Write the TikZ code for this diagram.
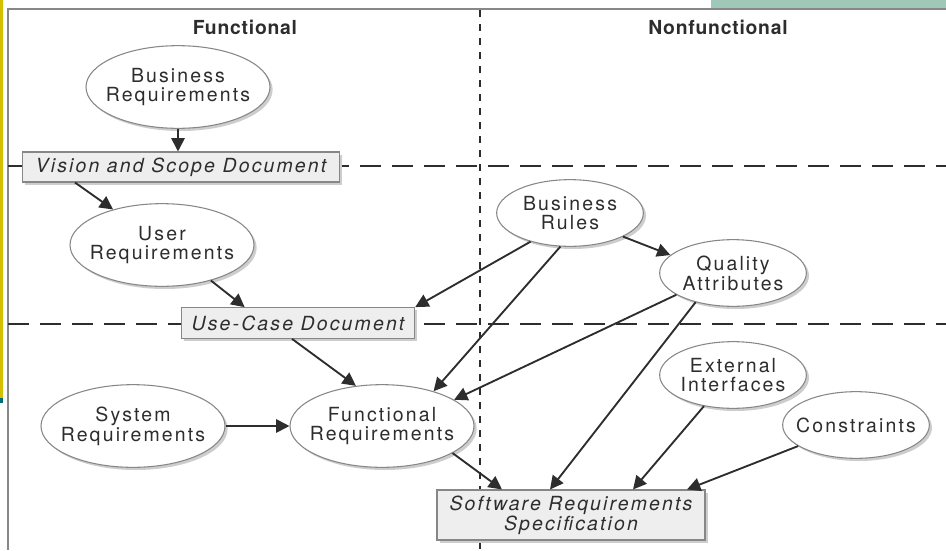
\documentclass[tikz,border=0pt]{standalone}
\usepackage{fontspec}
\setmainfont{TeX Gyre Heros}[LetterSpace=11]
\usepackage{xcolor}
\definecolor{myline}{RGB}{135,135,135}
\definecolor{myink}{RGB}{45,45,45}
\definecolor{mybox}{RGB}{238,238,238}
\definecolor{myshade}{RGB}{205,205,205}
\definecolor{myyellow}{RGB}{212,192,0}
\definecolor{myteal}{RGB}{0,110,120}
\definecolor{mygreen}{RGB}{160,200,185}
\usetikzlibrary{shapes.geometric,shadows,arrows.meta}

\begin{document}
\begin{tikzpicture}[x=0.75pt,y=-0.75pt,font=\fontsize{14.6}{13.8}\selectfont,text=myink]
	\tikzstyle{req}=[ellipse,draw=myline,thick,fill=white,align=center,inner xsep=-10pt,inner ysep=0pt,minimum width=138pt,minimum height=62pt,drop shadow={shadow xshift=2pt,shadow yshift=-2pt,fill=myshade,opacity=1}];
	\tikzstyle{attr}=[req,minimum width=110pt,minimum height=50pt];
	\tikzstyle{doc}=[rectangle,draw=myline,thick,fill=mybox,align=center,inner sep=0pt,font=\fontsize{14.6}{13.8}\selectfont\itshape,drop shadow={shadow xshift=2pt,shadow yshift=-2pt,fill=myshade,opacity=1}];
	\tikzstyle{flow}=[-{Triangle[length=10pt,width=10pt]},line width=1.4pt,myink];
	\tikzstyle{title}=[font=\fontsize{14.5}{15}\selectfont\bfseries\addfontfeature{LetterSpace=4}];
	\useasboundingbox (0,0) rectangle (946,550);
	%% Frame
	\fill[myyellow] (0,0) rectangle (3,398);
	\fill[myteal] (0,398) rectangle (3,403);
	\fill[mygreen] (711,0) rectangle (946,8);
	\draw[myline,line width=1.5pt] (946,9) -- (8,9) -- (8,550);
	%% Dashed Splits
	\draw[myink,line width=1.5pt,dash pattern=on 5.5pt off 5pt] (480,10) -- (480,550);
	\draw[myink,line width=2.2pt,dash pattern=on 16pt off 8pt] (8,166) -- (946,166);
	\draw[myink,line width=2.2pt,dash pattern=on 16pt off 8pt] (8,324) -- (946,324);
	%% Titles
	\node[title] (functional) at (245,27) {Functional};
	\node[title] (nonfunctional) at (718,27) {Nonfunctional};
	%% Requirements
	\node[req] (biz) at (178,87) {Business\\Requirements};
	\node[req] (user) at (162,245) {User\\Requirements};
	\node[req] (sysreq) at (133,426) {System\\Requirements};
	\node[req] (funcreq) at (382,426) {Functional\\Requirements};
	\node[attr] (rules) at (570,213) {Business\\Rules};
	\node[attr] (quality) at (733,273) {Quality\\Attributes};
	\node[attr] (external) at (733,375) {External\\Interfaces};
	\node[attr] (constraints) at (856,425) {Constraints};
	%% Documents
	\node[doc,minimum width=238pt,minimum height=22.5pt] (vision) at (181,167) {Vision and Scope Document};
	\node[doc,minimum width=175pt,minimum height=23pt] (usecase) at (298,323) {Use-Case Document};
	\node[doc,minimum width=201pt,minimum height=37.5pt] (srs) at (571,515) {Software Requirements\\Specification};
	%% Connectors
	\draw[flow] (biz) -- (biz |- vision.north);
	\draw[flow] ([xshift=-79.5pt]vision.south) -- (user.144);
	\draw[flow] (user.324) -- ([xshift=-40pt]usecase.north);
	\draw[flow] ([xshift=-4.5pt]usecase.south) -- (funcreq.123);
	\draw[flow] (sysreq) -- (funcreq);
	\draw[flow] (rules.216) -- (usecase.north east);
	\draw[flow] (rules.254) -- (funcreq.34);
	\draw[flow] (rules.336) -- (quality.164);
	\draw[flow] (quality.201) -- (funcreq.20);
	\draw[flow] (quality.218) -- ([xshift=-15.75pt]srs.north);
	\draw[flow] (funcreq.339) -- ([xshift=-51.75pt]srs.north);
	\draw[flow] (external.227) -- ([xshift=46.5pt]srs.north);
	\draw[flow] (constraints.200) -- ([xshift=87pt]srs.north);
\end{tikzpicture}
\end{document}
